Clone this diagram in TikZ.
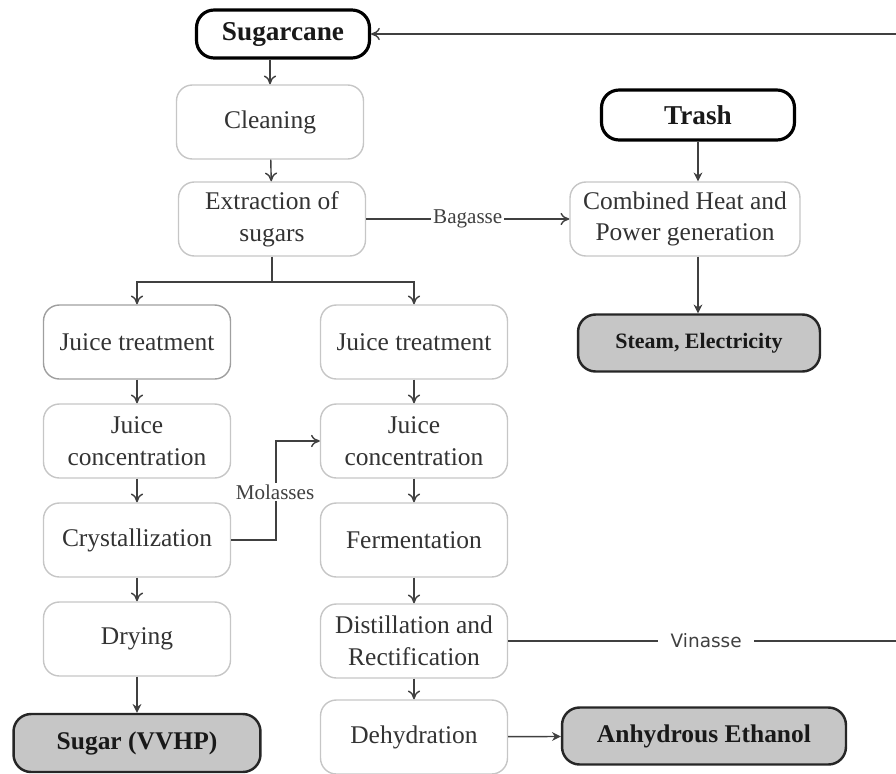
\documentclass[tikz,border=0pt]{standalone}
\usepackage{fontspec}
\setmainfont{Liberation Serif}
\newfontfamily\vinfont{DejaVu Sans}
\usetikzlibrary{arrows.meta,positioning}

\tikzset{
    proc/.style={draw=gray!45, line width=0.8pt, rounded corners=9pt, align=center,
        text=black!80, minimum width=3.74cm, minimum height=1.48cm,
        font=\fontsize{14.5}{18}\selectfont},
    src/.style={draw=black, line width=1.8pt, rounded corners=10pt, text=black!90,
        font=\fontsize{15.5}{18}\selectfont\bfseries},
    prod/.style={draw=black!85, fill=gray!45, line width=1.4pt, rounded corners=10pt,
        text=black!90, font=\fontsize{14.5}{18}\selectfont\bfseries},
    flow/.style={-{To[length=5pt,width=7pt]}, draw=black!75, line width=0.8pt},
    feed/.style={-{Stealth[length=5pt,width=5pt]}, draw=black!75, line width=0.8pt},
    lbl/.style={fill=white, inner sep=1pt, text=black!75, font=\fontsize{12}{14}\selectfont},
}

\begin{document}
\begin{tikzpicture}[x=0.02cm, y=-0.02cm]
    \useasboundingbox (0,0) rectangle (896,774);

    % Raw materials
    \node[src, minimum width=3.46cm, minimum height=0.96cm] (cane) at (283,34) {Sugarcane};
    \node[src, minimum width=3.86cm, minimum height=1.0cm] (trash) at (698,115) {Trash};

    % Common steps
    \node[proc] (clean) at (270,122) {Cleaning};
    \node[proc] (extr) at (272,219) {Extraction of\\sugars};
    \node[proc, minimum width=4.6cm] (chp) at (685,219) {Combined Heat and\\Power generation};
    \node[prod, minimum width=4.84cm, minimum height=1.14cm,
          font=\fontsize{12.5}{15}\selectfont\bfseries] (steam) at (699,343) {Steam, Electricity};

    % Sugar line
    \node[proc, draw=gray!75] (jtl) at (137,342) {Juice treatment};
    \node[proc] (jcl) at (137,441) {Juice\\concentration};
    \node[proc] (cryst) at (137,540) {Crystallization};
    \node[proc] (dry) at (137,639) {Drying};
    \node[prod, minimum width=4.94cm, minimum height=1.16cm] (sugar) at (137,743) {Sugar (VVHP)};

    % Ethanol line
    \node[proc] (jtr) at (414,342) {Juice treatment};
    \node[proc] (jcr) at (414,441) {Juice\\concentration};
    \node[proc] (ferm) at (414,540) {Fermentation};
    \node[proc] (dist) at (414,641) {Distillation and\\Rectification};
    \node[proc] (dehy) at (414,737) {Dehydration};
    \node[prod, minimum width=5.68cm, minimum height=1.14cm] (etoh) at (704,736) {Anhydrous Ethanol};

    % Main flow
    \draw[flow] (clean.north |- cane.south) -- (clean);
    \draw[flow] (clean) -- (extr);
    \coordinate (split) at (272,282);
    \draw[draw=black!75, line width=0.8pt] (extr.south) -- (split);
    \draw[flow] (split) -| (jtl.north);
    \draw[flow] (split) -| (jtr.north);
    \draw[flow] (jtl) -- (jcl);
    \draw[flow] (jcl) -- (cryst);
    \draw[flow] (cryst) -- (dry);
    \draw[feed] (dry) -- (sugar);
    \draw[flow] (jtr) -- (jcr);
    \draw[flow] (jcr) -- (ferm);
    \draw[flow] (ferm) -- (dist);
    \draw[flow] (dist) -- (dehy);
    \draw[feed] (dehy) -- (etoh);

    % Energy
    \draw[flow] (extr.east) -- node[lbl] (bag) {Bagasse} (chp.west);
    \draw[feed] (trash) -- (trash |- chp.north);
    \draw[feed] (trash |- chp.south) -- (trash |- steam.north);

    % By-products
    \draw[flow] (cryst.east) -- ++(45,0) |- (jcr.west);
    \node[lbl] (mol) at (275,492) {Molasses};
    \draw[flow] (dist.east) -- node[lbl, inner xsep=7pt, font=\vinfont\fontsize{10.5}{12}\selectfont] (vin) {Vinasse}
        ++(396,0) |- (cane.east);
\end{tikzpicture}
\end{document}
